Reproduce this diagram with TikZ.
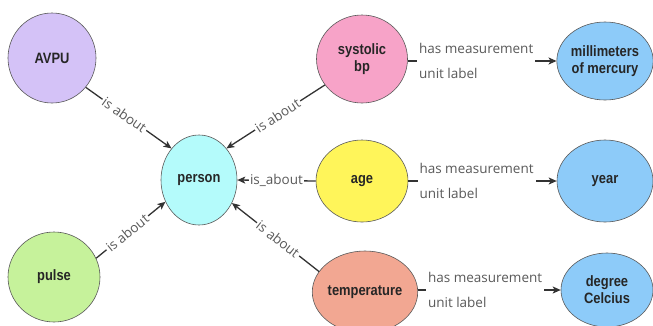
\documentclass[tikz,border=0pt]{standalone}
\usepackage{fontspec}
\setmainfont{Liberation Sans}
\newfontfamily\edgefont{Open Sans}
\newfontfamily\nodefont{Liberation Sans}[FakeStretch=0.86]
\usetikzlibrary{shapes.geometric,arrows.meta}
\definecolor{cavpu}{HTML}{D4C2F7}
\definecolor{cpulse}{HTML}{C6F29B}
\definecolor{cperson}{HTML}{B4FBFB}
\definecolor{csys}{HTML}{F7A3C8}
\definecolor{cage}{HTML}{FFF55A}
\definecolor{ctemp}{HTML}{F2A792}
\definecolor{cunit}{HTML}{8DCBF9}
\definecolor{cedge}{HTML}{333333}
\definecolor{ctext}{HTML}{5A5A5A}
\tikzset{
  ent/.style={ellipse, draw=black!65, line width=0.6pt, inner sep=0pt,
    align=center, font=\nodefont\bfseries\fontsize{15}{17}\selectfont, text=black!85},
  rel/.style={draw=cedge, line width=1.3pt, -{Stealth[length=8pt,width=7pt,inset=2pt]}},
  rlab/.style={fill=white, inner sep=1.5pt, text=ctext,
    font=\edgefont\fontsize{13.5}{15}\selectfont},
  mlab/.style={fill=white, inner sep=2pt, text=ctext, align=left,
    font=\edgefont\fontsize{13.5}{25}\selectfont}
}
\begin{document}
\begin{tikzpicture}[x=1pt,y=-1pt]
\clip (0,0) rectangle (653,325);
\fill[white] (0,0) rectangle (653,325);
\node[ent, fill=cavpu, minimum width=88pt, minimum height=90pt] (avpu) at (52,58) {AVPU};
\node[ent, fill=cpulse, minimum width=92pt, minimum height=90pt] (pulse) at (54,277) {pulse};
\node[ent, fill=cperson, minimum width=76pt, minimum height=90pt] (person) at (199,180) {person};
\node[ent, fill=csys, minimum width=91pt, minimum height=88pt] (sys) at (362,59) {systolic\\bp};
\node[ent, fill=cage, minimum width=92pt, minimum height=82pt] (age) at (362,181) {age};
\node[ent, fill=ctemp, minimum width=90pt, minimum height=82pt] (temp) at (365,292) {temperature};
\node[ent, fill=cunit, minimum width=96pt, minimum height=78pt] (mm) at (605,61) {millimeters\\of mercury};
\node[ent, fill=cunit, minimum width=96pt, minimum height=82pt] (year) at (605,181) {year};
\node[ent, fill=cunit, minimum width=92pt, minimum height=74pt] (deg) at (607,290) {degree\\Celcius};

\draw[rel] (avpu.319) -- node[rlab, sloped, pos=0.45] {is about} (person.131);
\draw[rel] (pulse.24) -- node[rlab, sloped, pos=0.45] {is about} (person.213);
\draw[rel] (sys.215) -- node[rlab, sloped, pos=0.48] {is about} (person.49);
\draw[rel] (age.west) -- node[rlab, pos=0.5] {is\_about} (person.east);
\draw[rel] (temp.156) -- node[rlab, sloped, pos=0.47] {is about} (person.325);

\draw[rel] (sys.east |- mm.west) -- node[mlab, pos=0.46] {has measurement\\unit label} (mm.west);
\draw[rel] (age.east) -- node[mlab, pos=0.46] {has measurement\\unit label} (year.west);
\draw[rel] (temp.east |- deg.west) -- node[mlab, pos=0.47] {has measurement\\unit label} (deg.west);
\end{tikzpicture}
\end{document}
